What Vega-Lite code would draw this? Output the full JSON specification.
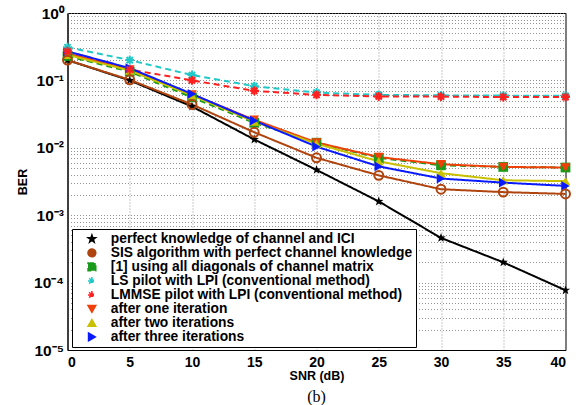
{
  "$schema": "https://vega.github.io/schema/vega-lite/v6.json",
  "autosize": {"type": "none"},
  "width": 498,
  "height": 337,
  "padding": {"left": 67.5, "top": 13, "right": 20.5, "bottom": 55},
  "background": "white",
  "title": {"text": "(b)", "orient": "bottom", "font": "Liberation Serif", "fontSize": 16, "fontWeight": "normal", "color": "black", "offset": 7},
  "datasets": {
    "ber": [
      {"snr": 0, "ber": 0.2, "series": "perfect knowledge of channel and ICI"},
      {"snr": 5, "ber": 0.1, "series": "perfect knowledge of channel and ICI"},
      {"snr": 10, "ber": 0.041, "series": "perfect knowledge of channel and ICI"},
      {"snr": 15, "ber": 0.0133, "series": "perfect knowledge of channel and ICI"},
      {"snr": 20, "ber": 0.0047, "series": "perfect knowledge of channel and ICI"},
      {"snr": 25, "ber": 0.0016, "series": "perfect knowledge of channel and ICI"},
      {"snr": 30, "ber": 0.00046, "series": "perfect knowledge of channel and ICI"},
      {"snr": 35, "ber": 0.0002, "series": "perfect knowledge of channel and ICI"},
      {"snr": 40, "ber": 0.000077, "series": "perfect knowledge of channel and ICI"},
      {"snr": 0, "ber": 0.2, "series": "SIS algorithm with perfect channel knowledge"},
      {"snr": 5, "ber": 0.102, "series": "SIS algorithm with perfect channel knowledge"},
      {"snr": 10, "ber": 0.044, "series": "SIS algorithm with perfect channel knowledge"},
      {"snr": 15, "ber": 0.017, "series": "SIS algorithm with perfect channel knowledge"},
      {"snr": 20, "ber": 0.0071, "series": "SIS algorithm with perfect channel knowledge"},
      {"snr": 25, "ber": 0.0039, "series": "SIS algorithm with perfect channel knowledge"},
      {"snr": 30, "ber": 0.00243, "series": "SIS algorithm with perfect channel knowledge"},
      {"snr": 35, "ber": 0.0022, "series": "SIS algorithm with perfect channel knowledge"},
      {"snr": 40, "ber": 0.00207, "series": "SIS algorithm with perfect channel knowledge"},
      {"snr": 0, "ber": 0.23, "series": "[1] using all diagonals of channel matrix"},
      {"snr": 5, "ber": 0.135, "series": "[1] using all diagonals of channel matrix"},
      {"snr": 10, "ber": 0.056, "series": "[1] using all diagonals of channel matrix"},
      {"snr": 15, "ber": 0.0235, "series": "[1] using all diagonals of channel matrix"},
      {"snr": 20, "ber": 0.0119, "series": "[1] using all diagonals of channel matrix"},
      {"snr": 25, "ber": 0.0071, "series": "[1] using all diagonals of channel matrix"},
      {"snr": 30, "ber": 0.0055, "series": "[1] using all diagonals of channel matrix"},
      {"snr": 35, "ber": 0.0052, "series": "[1] using all diagonals of channel matrix"},
      {"snr": 40, "ber": 0.0051, "series": "[1] using all diagonals of channel matrix"},
      {"snr": 0, "ber": 0.31, "series": "LS pilot with LPI (conventional method)"},
      {"snr": 5, "ber": 0.2, "series": "LS pilot with LPI (conventional method)"},
      {"snr": 10, "ber": 0.12, "series": "LS pilot with LPI (conventional method)"},
      {"snr": 15, "ber": 0.082, "series": "LS pilot with LPI (conventional method)"},
      {"snr": 20, "ber": 0.066, "series": "LS pilot with LPI (conventional method)"},
      {"snr": 25, "ber": 0.061, "series": "LS pilot with LPI (conventional method)"},
      {"snr": 30, "ber": 0.06, "series": "LS pilot with LPI (conventional method)"},
      {"snr": 35, "ber": 0.0595, "series": "LS pilot with LPI (conventional method)"},
      {"snr": 40, "ber": 0.059, "series": "LS pilot with LPI (conventional method)"},
      {"snr": 0, "ber": 0.27, "series": "LMMSE pilot with LPI (conventional method)"},
      {"snr": 5, "ber": 0.145, "series": "LMMSE pilot with LPI (conventional method)"},
      {"snr": 10, "ber": 0.1, "series": "LMMSE pilot with LPI (conventional method)"},
      {"snr": 15, "ber": 0.07, "series": "LMMSE pilot with LPI (conventional method)"},
      {"snr": 20, "ber": 0.061, "series": "LMMSE pilot with LPI (conventional method)"},
      {"snr": 25, "ber": 0.0578, "series": "LMMSE pilot with LPI (conventional method)"},
      {"snr": 30, "ber": 0.0575, "series": "LMMSE pilot with LPI (conventional method)"},
      {"snr": 35, "ber": 0.0565, "series": "LMMSE pilot with LPI (conventional method)"},
      {"snr": 40, "ber": 0.0565, "series": "LMMSE pilot with LPI (conventional method)"},
      {"snr": 0, "ber": 0.25, "series": "after one iteration"},
      {"snr": 5, "ber": 0.145, "series": "after one iteration"},
      {"snr": 10, "ber": 0.062, "series": "after one iteration"},
      {"snr": 15, "ber": 0.026, "series": "after one iteration"},
      {"snr": 20, "ber": 0.012, "series": "after one iteration"},
      {"snr": 25, "ber": 0.0073, "series": "after one iteration"},
      {"snr": 30, "ber": 0.0057, "series": "after one iteration"},
      {"snr": 35, "ber": 0.0052, "series": "after one iteration"},
      {"snr": 40, "ber": 0.0051, "series": "after one iteration"},
      {"snr": 0, "ber": 0.24, "series": "after two iterations"},
      {"snr": 5, "ber": 0.14, "series": "after two iterations"},
      {"snr": 10, "ber": 0.06, "series": "after two iterations"},
      {"snr": 15, "ber": 0.0245, "series": "after two iterations"},
      {"snr": 20, "ber": 0.0115, "series": "after two iterations"},
      {"snr": 25, "ber": 0.0063, "series": "after two iterations"},
      {"snr": 30, "ber": 0.0042, "series": "after two iterations"},
      {"snr": 35, "ber": 0.0033, "series": "after two iterations"},
      {"snr": 40, "ber": 0.0032, "series": "after two iterations"},
      {"snr": 0, "ber": 0.27, "series": "after three iterations"},
      {"snr": 5, "ber": 0.152, "series": "after three iterations"},
      {"snr": 10, "ber": 0.063, "series": "after three iterations"},
      {"snr": 15, "ber": 0.0253, "series": "after three iterations"},
      {"snr": 20, "ber": 0.0104, "series": "after three iterations"},
      {"snr": 25, "ber": 0.0053, "series": "after three iterations"},
      {"snr": 30, "ber": 0.0035, "series": "after three iterations"},
      {"snr": 35, "ber": 0.00304, "series": "after three iterations"},
      {"snr": 40, "ber": 0.00272, "series": "after three iterations"}
    ]
  },
  "data": {"name": "ber"},
  "encoding": {
    "x": {
      "field": "snr", "type": "quantitative",
      "scale": {"domain": [0, 40], "nice": false, "zero": false},
      "axis": {"title": "SNR (dB)", "values": [0, 5, 10, 15, 20, 25, 30, 35, 40], "labelPadding": 5, "titlePadding": 0, "labelFontSize": 14}
    },
    "y": {
      "field": "ber", "type": "quantitative",
      "scale": {"type": "log", "domain": [0.00001, 1], "nice": false},
      "axis": {
        "title": "BER",
        "values": [0.00001, 0.00002, 0.00003, 0.00004, 0.00005, 0.00006, 0.00007, 0.00008, 0.00009,
                   0.0001, 0.0002, 0.0003, 0.0004, 0.0005, 0.0006, 0.0007, 0.0008, 0.0009,
                   0.001, 0.002, 0.003, 0.004, 0.005, 0.006, 0.007, 0.008, 0.009,
                   0.01, 0.02, 0.03, 0.04, 0.05, 0.06, 0.07, 0.08, 0.09,
                   0.1, 0.2, 0.3, 0.4, 0.5, 0.6, 0.7, 0.8, 0.9, 1],
        "labelExpr": "datum.value == 1 ? '10⁰' : datum.value == 0.1 ? '10⁻¹' : datum.value == 0.01 ? '10⁻²' : datum.value == 0.001 ? '10⁻³' : datum.value == 0.0001 ? '10⁻⁴' : datum.value == 0.00001 ? '10⁻⁵' : ''",
        "labelOverlap": false,
        "labelFontSize": 15.5,
        "labelPadding": 4,
        "titlePadding": 4
      }
    },
    "color": {
      "field": "series", "type": "nominal",
      "scale": {
        "domain": ["perfect knowledge of channel and ICI", "SIS algorithm with perfect channel knowledge", "[1] using all diagonals of channel matrix", "LS pilot with LPI (conventional method)", "LMMSE pilot with LPI (conventional method)", "after one iteration", "after two iterations", "after three iterations"],
        "range": ["#000000", "#b0440f", "#1a9a1a", "#20c8c8", "#ff2020", "#f0400a", "#c8c000", "#0a1aff"]
      },
      "legend": {"title": null}
    },
    "shape": {
      "field": "series", "type": "nominal",
      "scale": {
        "domain": ["perfect knowledge of channel and ICI", "SIS algorithm with perfect channel knowledge", "[1] using all diagonals of channel matrix", "LS pilot with LPI (conventional method)", "LMMSE pilot with LPI (conventional method)", "after one iteration", "after two iterations", "after three iterations"],
        "range": [
          "M0,-1L0.235,-0.324L0.951,-0.309L0.38,0.124L0.588,0.809L0,0.4L-0.588,0.809L-0.38,0.124L-0.951,-0.309L-0.235,-0.324Z",
          "circle",
          "square",
          "M0,-1L0,1M-1,0L1,0M-0.7,-0.7L0.7,0.7M-0.7,0.7L0.7,-0.7",
          "M0,-1L0,1M-1,0L1,0M-0.7,-0.7L0.7,0.7M-0.7,0.7L0.7,-0.7",
          "triangle-down",
          "triangle-up",
          "triangle-right"
        ]
      },
      "legend": {"title": null}
    }
  },
  "layer": [
    {
      "mark": {"type": "line", "strokeWidth": 2},
      "encoding": {
        "shape": null,
        "strokeDash": {
          "field": "series", "type": "nominal",
          "scale": {
            "domain": ["perfect knowledge of channel and ICI", "SIS algorithm with perfect channel knowledge", "[1] using all diagonals of channel matrix", "LS pilot with LPI (conventional method)", "LMMSE pilot with LPI (conventional method)", "after one iteration", "after two iterations", "after three iterations"],
            "range": [[1, 0], [1, 0], [6, 4], [6, 4], [6, 4], [1, 0], [1, 0], [1, 0]]
          },
          "legend": {"title": null}
        }
      }
    },
    {
      "transform": [{"filter": {"field": "series", "oneOf": ["perfect knowledge of channel and ICI", "[1] using all diagonals of channel matrix", "after one iteration", "after two iterations", "after three iterations"]}}],
      "mark": {"type": "point", "filled": true, "size": 95, "opacity": 1}
    },
    {
      "transform": [{"filter": {"field": "series", "oneOf": ["SIS algorithm with perfect channel knowledge", "LS pilot with LPI (conventional method)", "LMMSE pilot with LPI (conventional method)"]}}],
      "mark": {"type": "point", "filled": false, "size": 80, "strokeWidth": 2, "opacity": 1}
    }
  ],
  "config": {
    "view": {"stroke": "black", "strokeWidth": 1},
    "axis": {
      "labelFont": "Liberation Sans", "labelFontWeight": "bold", "labelFontSize": 13, "labelColor": "black",
      "titleFont": "Liberation Sans", "titleFontWeight": "bold", "titleFontSize": 12.5, "titleColor": "black",
      "domainColor": "black", "gridColor": "#777777", "gridDash": [1, 2], "gridWidth": 0.8,
      "ticks": false
    },
    "legend": {
      "orient": "none", "legendX": 4.5, "legendY": 216,
      "labelFont": "Liberation Sans", "labelFontWeight": "bold", "labelFontSize": 13.8, "labelColor": "black",
      "labelLimit": 400, "strokeColor": "black", "fillColor": "white", "padding": 3,
      "rowPadding": -1.2, "symbolSize": 60, "symbolStrokeWidth": 1.5, "symbolOffset": 10, "labelOffset": 12
    }
  }
}
